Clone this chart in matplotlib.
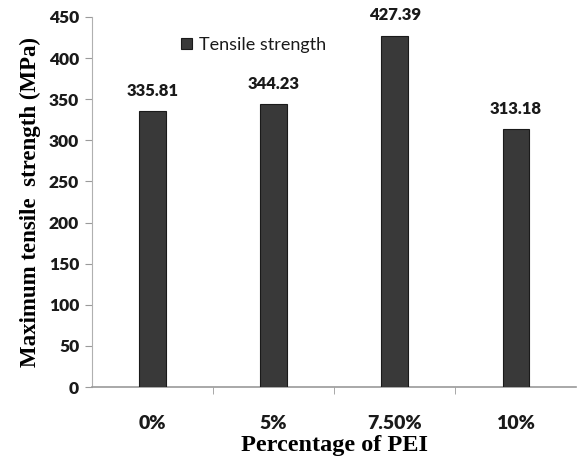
import matplotlib.pyplot as plt
from matplotlib.ticker import FixedLocator

categories = ["0%", "5%", "7.50%", "10%"]
strength = [335.81, 344.23, 427.39, 313.18]
yticks = [0, 50, 100, 150, 200, 250, 300, 350, 400, 450]

label_font = "Lato"
serif_font = "Liberation Serif"

fig = plt.figure(figsize=(5.77, 4.58), dpi=100)
ax = fig.add_axes([0.159, 0.155, 0.84, 0.808])

x = list(range(len(categories)))
bars = ax.bar(x, strength, width=0.22, color="#393939", edgecolor="#1a1a1a",
              linewidth=0.8, label="Tensile strength", zorder=3)

# value labels above each bar
for xi, v in zip(x, strength):
    ax.text(xi, v + 15, f"{v:.2f}", ha="center", va="bottom",
            fontsize=12, fontweight="heavy", family=label_font, color="#1a1a1a")

ax.set_xlim(-0.5, len(categories) - 0.5)
ax.set_ylim(0, 450)
ax.set_yticks(yticks)
ax.set_xticks(x)
ax.set_xticklabels(categories)
ax.xaxis.set_minor_locator(FixedLocator([0.5, 1.5, 2.5]))

for spine in ("top", "right"):
    ax.spines[spine].set_visible(False)
ax.spines["left"].set_color("#b0b0b0")
ax.spines["bottom"].set_color("#9a9a9a")
ax.spines["bottom"].set_linewidth(1.2)

ax.tick_params(axis="y", length=5, color="#9a9a9a", labelsize=12.5, pad=4)
ax.tick_params(axis="x", which="major", length=0, labelsize=14, pad=20)
ax.tick_params(axis="x", which="minor", length=5, color="#9a9a9a")
for lab in ax.get_xticklabels() + ax.get_yticklabels():
    lab.set_fontfamily(label_font)
    lab.set_fontweight("heavy")
    lab.set_color("#1a1a1a")

ax.set_ylabel("Maximum tensile  strength (MPa)", family=serif_font,
              fontweight="bold", fontsize=16.5, labelpad=6)
ax.set_xlabel("Percentage of PEI", family=serif_font, fontweight="bold",
              fontsize=17.5, labelpad=2)

leg = ax.legend(loc="upper left", bbox_to_anchor=(0.15, 0.99), frameon=False,
                handlelength=0.6, handleheight=0.6, handletextpad=0.4,
                prop={"family": label_font, "size": 13})
for t in leg.get_texts():
    t.set_color("#1a1a1a")

fig.savefig("out.png", dpi=100)
